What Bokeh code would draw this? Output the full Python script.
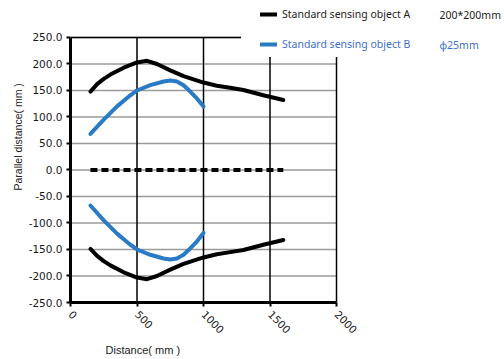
import math
from bokeh.plotting import figure
from bokeh.models import (Range1d, FixedTicker, NumeralTickFormatter, Label,
                          Legend, LegendItem, BoxAnnotation, Title)
from bokeh.embed import file_html
from bokeh.resources import INLINE

# ---- data ----
a_up_x = [150, 200, 250, 300, 400, 500, 575, 650, 750, 850, 1000, 1100, 1200, 1300, 1450, 1600]
a_up_y = [148, 162, 172, 180, 193, 203, 206, 200, 188, 177, 165, 159, 155, 151, 141, 132]
a_lo_x = [150, 200, 250, 300, 400, 500, 575, 650, 750, 850, 1000, 1100, 1200, 1300, 1450, 1600]
a_lo_y = [-149, -162, -172, -180, -193, -203, -206, -200, -188, -177, -165, -159, -155, -151, -141, -132]
b_up_x = [150, 250, 350, 450, 500, 600, 700, 750, 800, 850, 900, 950, 1000]
b_up_y = [68, 95, 120, 141, 150, 160, 167, 169, 167, 160, 148, 135, 120]
b_lo_x = [150, 250, 350, 450, 500, 600, 700, 750, 800, 850, 900, 950, 1000]
b_lo_y = [-67, -95, -120, -141, -150, -160, -167, -169, -167, -160, -148, -135, -119]
zero_x = [150, 1600]
zero_y = [0, 0]
x_ticks = [0, 500, 1000, 1500, 2000]
y_ticks = [-250, -200, -150, -100, -50, 0, 50, 100, 150, 200, 250]

BLACK = "#000000"
BLUE = "#2a7bc6"
BLUE_TXT = "#3d6fcc"

# frame: left edge at x=0, bottom at y=-250; extends to the top and right of the canvas
p = figure(width=504, height=359, output_backend="svg", toolbar_location=None,
           x_range=Range1d(0, 3263), y_range=Range1d(-250, 319.8),
           min_border_left=70, min_border_right=0, min_border_top=0,
           min_border_bottom=57)

p.background_fill_color = "white"
p.border_fill_color = "white"
p.outline_line_color = None
p.xgrid.visible = False
p.ygrid.visible = False

# axes
for ax in (p.xaxis[0], p.yaxis[0]):
    ax.axis_line_width = 3
    ax.axis_line_color = "black"
    ax.major_tick_line_width = 2
    ax.major_tick_in = 0
    ax.major_tick_out = 4
    ax.minor_tick_line_color = None
    ax.major_label_text_font = "DejaVu Sans"
    ax.major_label_text_font_size = "10.5px"
    ax.major_label_text_color = "#1a1a1a"

p.xaxis.ticker = FixedTicker(ticks=x_ticks)
p.yaxis.ticker = FixedTicker(ticks=y_ticks)
p.xaxis.bounds = (x_ticks[0], x_ticks[-1])
p.yaxis.bounds = (y_ticks[0], y_ticks[-1])
p.yaxis.formatter = NumeralTickFormatter(format="0.0")
p.xaxis.major_label_orientation = -math.pi / 4
p.yaxis.major_label_standoff = 4
p.xaxis.major_label_standoff = 6

# grid lines (drawn from the tick lists)
p.segment(x0=x_ticks[0], x1=x_ticks[-1], y0=y_ticks[1:], y1=y_ticks[1:],
          line_color="#9a9a9a", line_width=1.5)
p.segment(x0=x_ticks[0], x1=x_ticks[-1], y0=y_ticks[-1], y1=y_ticks[-1],
          line_color="black", line_width=1.5)
p.segment(x0=x_ticks[1:], x1=x_ticks[1:], y0=y_ticks[0], y1=y_ticks[-1],
          line_color="black", line_width=1.5)

# lines
kw = dict(line_width=4, line_cap="round", line_join="round")
ra = p.line(a_up_x, a_up_y, line_color=BLACK, **kw)
p.line(a_lo_x, a_lo_y, line_color=BLACK, **kw)
rb = p.line(b_up_x, b_up_y, line_color=BLUE, **kw)
p.line(b_lo_x, b_lo_y, line_color=BLUE, **kw)
p.line(zero_x, zero_y, line_color=BLACK, line_width=4, line_dash="7 4")

# white box behind legend
p.add_layout(BoxAnnotation(left=1282, right=3300, bottom=213, top=330,
                           fill_color="white", fill_alpha=1, line_color=None))

# legends
def mk_legend(label, renderer, color, loc):
    lg = Legend(items=[LegendItem(label=label, renderers=[renderer])],
                location=loc, padding=0, margin=0, spacing=0,
                glyph_width=17, glyph_height=14, label_standoff=5,
                label_height=14, label_text_font="Noto Sans",
                label_text_font_size="10.5px", label_text_color=color,
                label_text_baseline="middle",
                background_fill_alpha=0, border_line_color=None)
    p.add_layout(lg, "center")

mk_legend("Standard sensing object A", ra, "#222222", (190, 281))
mk_legend("Standard sensing object B", rb, BLUE_TXT, (190, 251))

def lab(txt, x, y, color="#222222"):
    p.add_layout(Label(x=x, y=y, x_units="screen", y_units="screen", text=txt,
                       text_font="Noto Sans", text_font_size="10.5px", text_color=color,
                       text_align="left", text_baseline="middle"))

lab("200*200mm", 369, 288)
lab("\u03d525mm", 369, 258, color=BLUE_TXT)

# axis titles
p.add_layout(Title(text="Parallel distance( mm )", align="left", offset=112,
                   standoff=4, text_font="Liberation Sans", text_font_size="10.5px",
                   text_font_style="normal", text_color="#222222"), "left")
p.add_layout(Title(text="Distance( mm )", align="left", offset=35,
                   standoff=3, text_font="Liberation Sans", text_font_size="11px",
                   text_font_style="normal", text_color="#222222"), "below")

open("out.html", "w").write(file_html(p, INLINE))
